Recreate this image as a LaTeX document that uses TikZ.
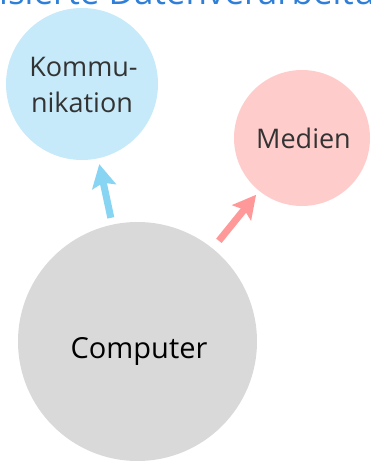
\documentclass[tikz,border=0pt]{standalone}
\usepackage{fontspec}
\setmainfont{Open Sans}
\usetikzlibrary{arrows.meta}

\definecolor{titleblue}{HTML}{2F7FD8}
\definecolor{commfill}{HTML}{C6EAF9}
\definecolor{mediafill}{HTML}{FFCCCC}
\definecolor{compfill}{HTML}{D9D9D9}
\definecolor{commarrow}{HTML}{88D4F3}
\definecolor{mediaarrow}{HTML}{FF9999}
\definecolor{labelgray}{HTML}{333333}

\tikzset{
  bubble/.style={circle, inner sep=0pt, outer sep=0pt},
  bubbletext/.style={anchor=base, inner sep=0pt, font=\fontsize{27}{27}\selectfont, text=labelgray},
  flowarrow/.style={line width=7pt,
    -{Stealth[length=23pt, width=24pt, inset=4pt]}},
}

\begin{document}
\begin{tikzpicture}[x=1pt, y=-1pt]
  \useasboundingbox (0,0) rectangle (370,461);
  \clip (0,0) rectangle (370,461);

  % heading, mostly above the top edge
  \node[anchor=base west, inner sep=0pt, text=titleblue,
        font=\fontsize{35}{35}\selectfont] (title) at (-1,4)
        {isierte Datenverarbeitung};

  % the three bubbles
  \node[bubble, fill=commfill, minimum size=152pt] (comm) at (82,84) {};
  \node[bubble, fill=mediafill, minimum size=136pt] (media) at (302,138) {};
  \node[bubble, fill=compfill, minimum size=239pt] (comp) at (137.5,341.5) {};

  % bubble labels
  \node[bubbletext] (commA) at (83.5,76) {Kommu-};
  \node[bubbletext] (commB) at (82,112) {nikation};
  \node[bubbletext] (mediatext) at (303.5,148) {Medien};
  \node[bubbletext, text=black, font=\fontsize{29}{29}\selectfont]
       (comptext) at (139,358) {Computer};

  % arrows from the computer to the other bubbles
  \draw[flowarrow, draw=commarrow, fill=commarrow,
        shorten <=7pt, shorten >=6pt] (comp) -- (comm);
  \draw[flowarrow, draw=mediaarrow, fill=mediaarrow,
        shorten <=10pt, shorten >=5pt] (comp) -- (media);
\end{tikzpicture}
\end{document}
